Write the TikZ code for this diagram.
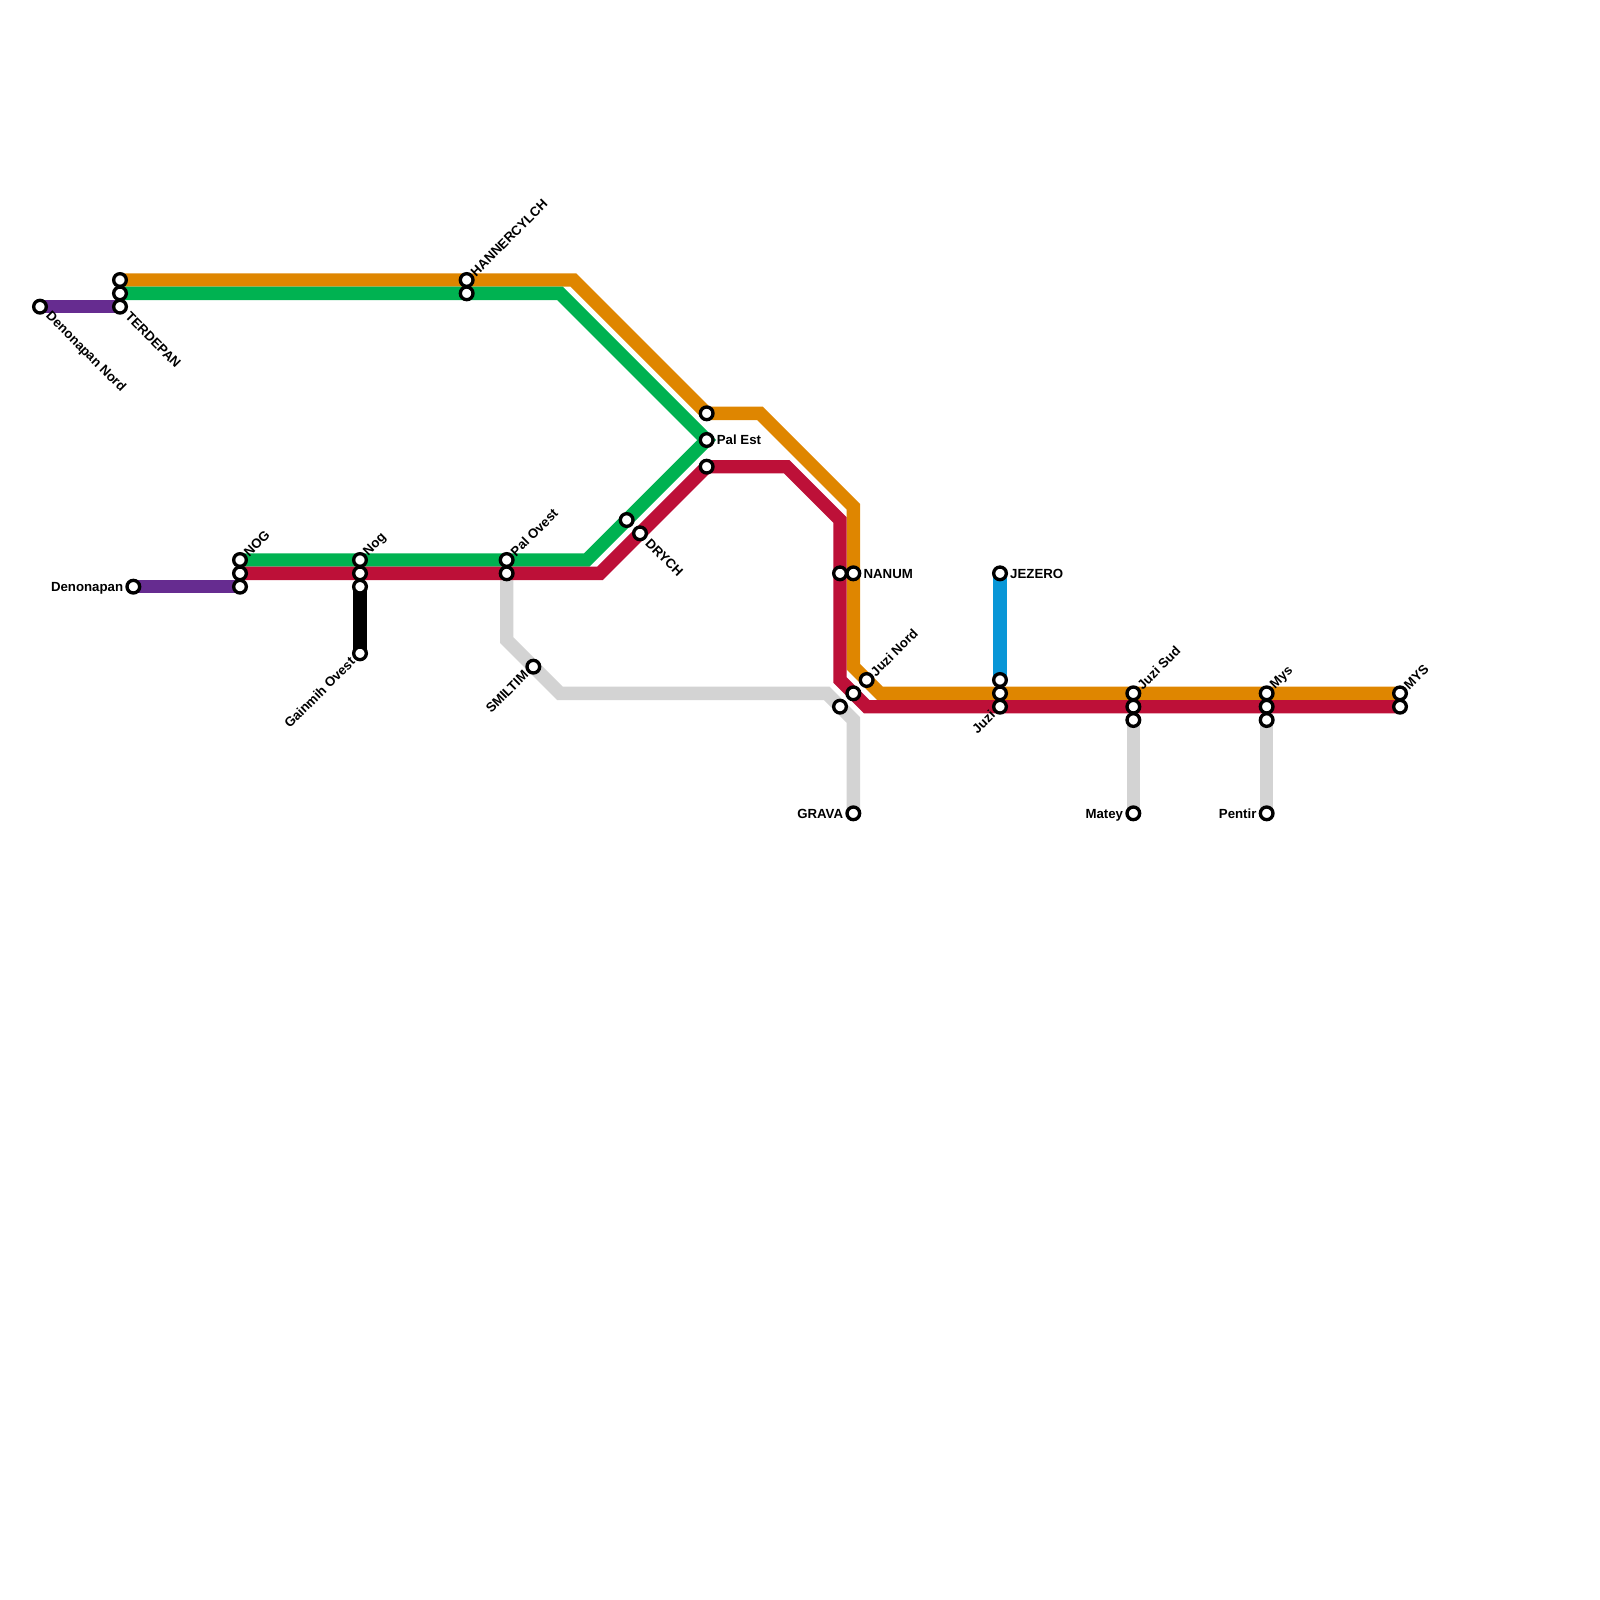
\documentclass[tikz,border=0pt]{standalone}
\usepackage{fontspec}
\setmainfont{Liberation Sans}
\usepackage{xcolor}
\usetikzlibrary{backgrounds}

\definecolor{lineorange}{HTML}{DF8600}
\definecolor{linegreen}{HTML}{00B251}
\definecolor{linered}{HTML}{BD1038}
\definecolor{linepurple}{HTML}{662C90}
\definecolor{lineblue}{HTML}{0896D7}
\definecolor{linegray}{HTML}{D3D3D3}

\tikzset{
  stn/.style={circle, draw=black, fill=white, line width=0.1cm, minimum size=0.38cm, inner sep=0pt, outer sep=0pt},
  metro/.style={line width=0.4cm},
  lbl/.style={inner sep=0pt, font=\fontsize{11.3pt}{12pt}\selectfont\bfseries},
  lblright/.style={lbl, anchor=base west, xshift=0.3cm, yshift=-0.14cm},
  lblleft/.style={lbl, anchor=base east, xshift=-0.3cm, yshift=-0.14cm},
  lblne/.style={lbl, anchor=west, xshift=0.18cm, yshift=0.18cm, rotate=45},
  lblse/.style={lbl, anchor=west, xshift=0.23cm, yshift=-0.23cm, rotate=-45},
  lblsw/.style={lbl, anchor=east, xshift=-0.22cm, yshift=-0.18cm, rotate=45},
}

\begin{document}
\begin{tikzpicture}[x=0.4cm, y=-0.4cm]
  \useasboundingbox (0,0) rectangle (120,120);
  \path
    (3,23) node[stn] (dennord){}
    (9,21) node[stn] (terdo){}
    (9,22) node[stn] (terdg){}
    (9,23) node[stn] (terdp){}
    (35,21) node[stn] (hanno){}
    (35,22) node[stn] (hanng){}
    (10,44) node[stn] (denon){}
    (18,42) node[stn] (nogg){}
    (18,43) node[stn] (nogr){}
    (18,44) node[stn] (nogp){}
    (27,42) node[stn] (nog2g){}
    (27,43) node[stn] (nog2r){}
    (27,44) node[stn] (nog2k){}
    (27,49) node[stn] (gainmih){}
    (38,42) node[stn] (palog){}
    (38,43) node[stn] (palor){}
    (40,50) node[stn] (smiltim){}
    (47,39) node[stn] (drychg){}
    (48,40) node[stn] (drychr){}
    (53,31) node[stn] (paleo){}
    (53,33) node[stn] (paleg){}
    (53,35) node[stn] (paler){}
    (63,43) node[stn] (nanumr){}
    (64,43) node[stn] (nanumo){}
    (65,51) node[stn] (juzno){}
    (64,52) node[stn] (juznr){}
    (63,53) node[stn] (juzng){}
    (64,61) node[stn] (grava){}
    (75,43) node[stn] (jezero){}
    (75,51) node[stn] (juzib){}
    (75,52) node[stn] (juzio){}
    (75,53) node[stn] (juzir){}
    (85,52) node[stn] (juzso){}
    (85,53) node[stn] (juzsr){}
    (85,54) node[stn] (juzsg){}
    (85,61) node[stn] (matey){}
    (95,52) node[stn] (myso){}
    (95,53) node[stn] (mysr){}
    (95,54) node[stn] (mysg){}
    (95,61) node[stn] (pentir){}
    (105,52) node[stn] (mys2o){}
    (105,53) node[stn] (mys2r){};

  % bends
  \coordinate (o1) at (43,21);
  \coordinate (o2) at (57,31);
  \coordinate (o3) at (64,38);
  \coordinate (o4) at (64,50);
  \coordinate (o5) at (66,52);
  \coordinate (g1) at (42,22);
  \coordinate (g2) at (44,42);
  \coordinate (r1) at (45,43);
  \coordinate (r2) at (59,35);
  \coordinate (r3) at (63,39);
  \coordinate (r4) at (63,51);
  \coordinate (r5) at (65,53);
  \coordinate (s1) at (38,48);
  \coordinate (s2) at (42,52);
  \coordinate (s3) at (62,52);
  \coordinate (s4) at (64,54);

  \begin{scope}[on background layer]
    \draw[metro, linegray] (palor.center) -- (s1) -- (s2) -- (s3) -- (s4) -- (grava.center);
    \draw[metro, linegray] (juzsg.center) -- (matey.center);
    \draw[metro, linegray] (mysg.center) -- (pentir.center);
    \draw[metro, lineblue] (jezero.center) -- (juzib.center);
    \draw[metro, black] (nog2k.center) -- (gainmih.center);
    \draw[metro, linepurple] (dennord.center) -- (terdp.center);
    \draw[metro, linepurple] (denon.center) -- (nogp.center);
    \draw[metro, lineorange] (terdo.center) -- (o1) -- (paleo.center) -- (o2) -- (o3) -- (o4) -- (o5) -- (mys2o.center);
    \draw[metro, linegreen] (terdg.center) -- (g1) -- (paleg.center) -- (g2) -- (nogg.center);
    \draw[metro, linered] (nogr.center) -- (r1) -- (paler.center) -- (r2) -- (r3) -- (r4) -- (r5) -- (mys2r.center);
  \end{scope}

  \node[lblse] (ldennord) at (dennord) {Denonapan Nord};
  \node[lblse] (lterd) at (terdp) {TERDEPAN};
  \node[lblne] (lhann) at (hanno) {HANNERCYLCH};
  \node[lblleft] (ldenon) at (denon) {Denonapan};
  \node[lblne] (lnog) at (nogg) {NOG};
  \node[lblne] (lnog2) at (nog2g) {Nog};
  \node[lblsw] (lgainmih) at (gainmih) {Gainmih Ovest};
  \node[lblne] (lpalo) at (palog) {Pal Ovest};
  \node[lblsw] (lsmiltim) at (smiltim) {SMILTIM};
  \node[lblse] (ldrych) at (drychr) {DRYCH};
  \node[lblright] (lpale) at (paleg) {Pal Est};
  \node[lblright] (lnanum) at (nanumo) {NANUM};
  \node[lblne] (ljuzn) at (juzno) {Juzi Nord};
  \node[lblleft] (lgrava) at (grava) {GRAVA};
  \node[lblright] (ljezero) at (jezero) {JEZERO};
  \node[lblsw] (ljuzi) at (juzir) {Juzi};
  \node[lblne] (ljuzs) at (juzso) {Juzi Sud};
  \node[lblleft] (lmatey) at (matey) {Matey};
  \node[lblne] (lmys) at (myso) {Mys};
  \node[lblleft] (lpentir) at (pentir) {Pentir};
  \node[lblne] (lmys2) at (mys2o) {MYS};
\end{tikzpicture}
\end{document}
